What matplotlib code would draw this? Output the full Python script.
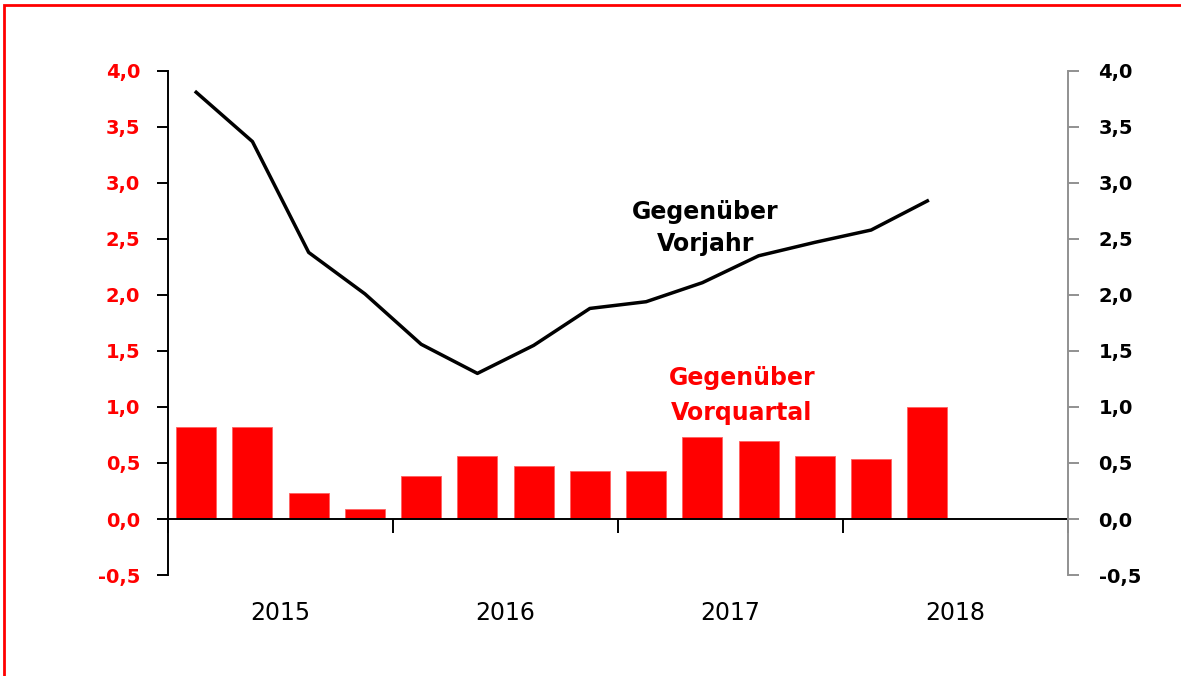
import matplotlib
matplotlib.use("Agg")
import matplotlib.pyplot as plt
import matplotlib.transforms as mtransforms
from matplotlib.patches import Rectangle

# quarterly values, 2015 Q1 .. 2018 Q2
quarters = list(range(14))
qoq_values = [0.82, 0.82, 0.23, 0.09, 0.38, 0.56, 0.47, 0.43, 0.43, 0.73, 0.70, 0.56, 0.54, 1.00]
yoy_values = [3.81, 3.37, 2.38, 2.01, 1.56, 1.30, 1.55, 1.88, 1.94, 2.11, 2.35, 2.47, 2.58, 2.84]
years = ["2015", "2016", "2017", "2018"]
yticks = [-0.5, 0.0, 0.5, 1.0, 1.5, 2.0, 2.5, 3.0, 3.5, 4.0]
ytick_labels = [f"{v:.1f}".replace(".", ",") for v in yticks]

plt.rcParams["font.family"] = ["DejaVu Sans"]

fig = plt.figure(figsize=(11.81, 6.76), dpi=100)
ax = fig.add_axes([0.1423, 0.1494, 0.762, 0.7456])

ax.bar(quarters, qoq_values, width=0.71, color="#ff0000", edgecolor="#ff6060", linewidth=0.6, zorder=2)
ax.plot(quarters, yoy_values, color="black", linewidth=2.5, zorder=3)

ax.set_xlim(-0.5, 15.5)
ax.set_ylim(-0.5, 4.0)

# x axis sits on the zero line, ticks mark year boundaries
ax.spines["bottom"].set_position(("data", 0))
ax.spines["bottom"].set_linewidth(1.4)
ax.spines["top"].set_visible(False)
ax.spines["right"].set_visible(False)
ax.spines["left"].set_linewidth(1.4)
ax.set_xticks([-0.5, 3.5, 7.5, 11.5, 15.5])
ax.set_xticklabels([])
ax.tick_params(axis="x", direction="out", length=10, width=1.4, color="black")

ax.set_yticks(yticks)
ax.set_yticklabels(ytick_labels, color="#ff0000", fontsize=14, fontweight="bold")
ax.tick_params(axis="y", direction="out", length=8, width=1.4, pad=12)

trans = mtransforms.blended_transform_factory(ax.transData, ax.transAxes)
for i, year in enumerate(years):
    ax.text(1.5 + 4 * i, -0.075, year, transform=trans, ha="center", va="center",
            fontsize=17, color="black")

# right axis, same scale
ax2 = ax.twinx()
ax2.set_ylim(ax.get_ylim())
ax2.set_yticks(yticks)
ax2.set_yticklabels(ytick_labels, color="black", fontsize=14, fontweight="bold")
ax2.tick_params(axis="y", direction="out", length=8, width=1.4, color="#909090", pad=14)
for side in ["top", "left", "bottom"]:
    ax2.spines[side].set_visible(False)
ax2.spines["right"].set_color("#909090")
ax2.spines["right"].set_linewidth(1.4)

ax.text(9.05, 2.60, "Gegenüber\nVorjahr", ha="center", va="center", fontsize=17,
        fontweight="bold", color="black", linespacing=1.45, zorder=4)
ax.text(9.70, 1.10, "Gegenüber\nVorquartal", ha="center", va="center", fontsize=17,
        fontweight="bold", color="#ff0000", linespacing=1.6, zorder=4)

# red frame, only top and left edge inside the picture
fig.patches.append(Rectangle((4 / 1181, -1), 2, 1 - 4.5 / 676 + 1, transform=fig.transFigure,
                             fill=False, edgecolor="#ff0000", linewidth=2))

fig.savefig("out.png", dpi=100)
